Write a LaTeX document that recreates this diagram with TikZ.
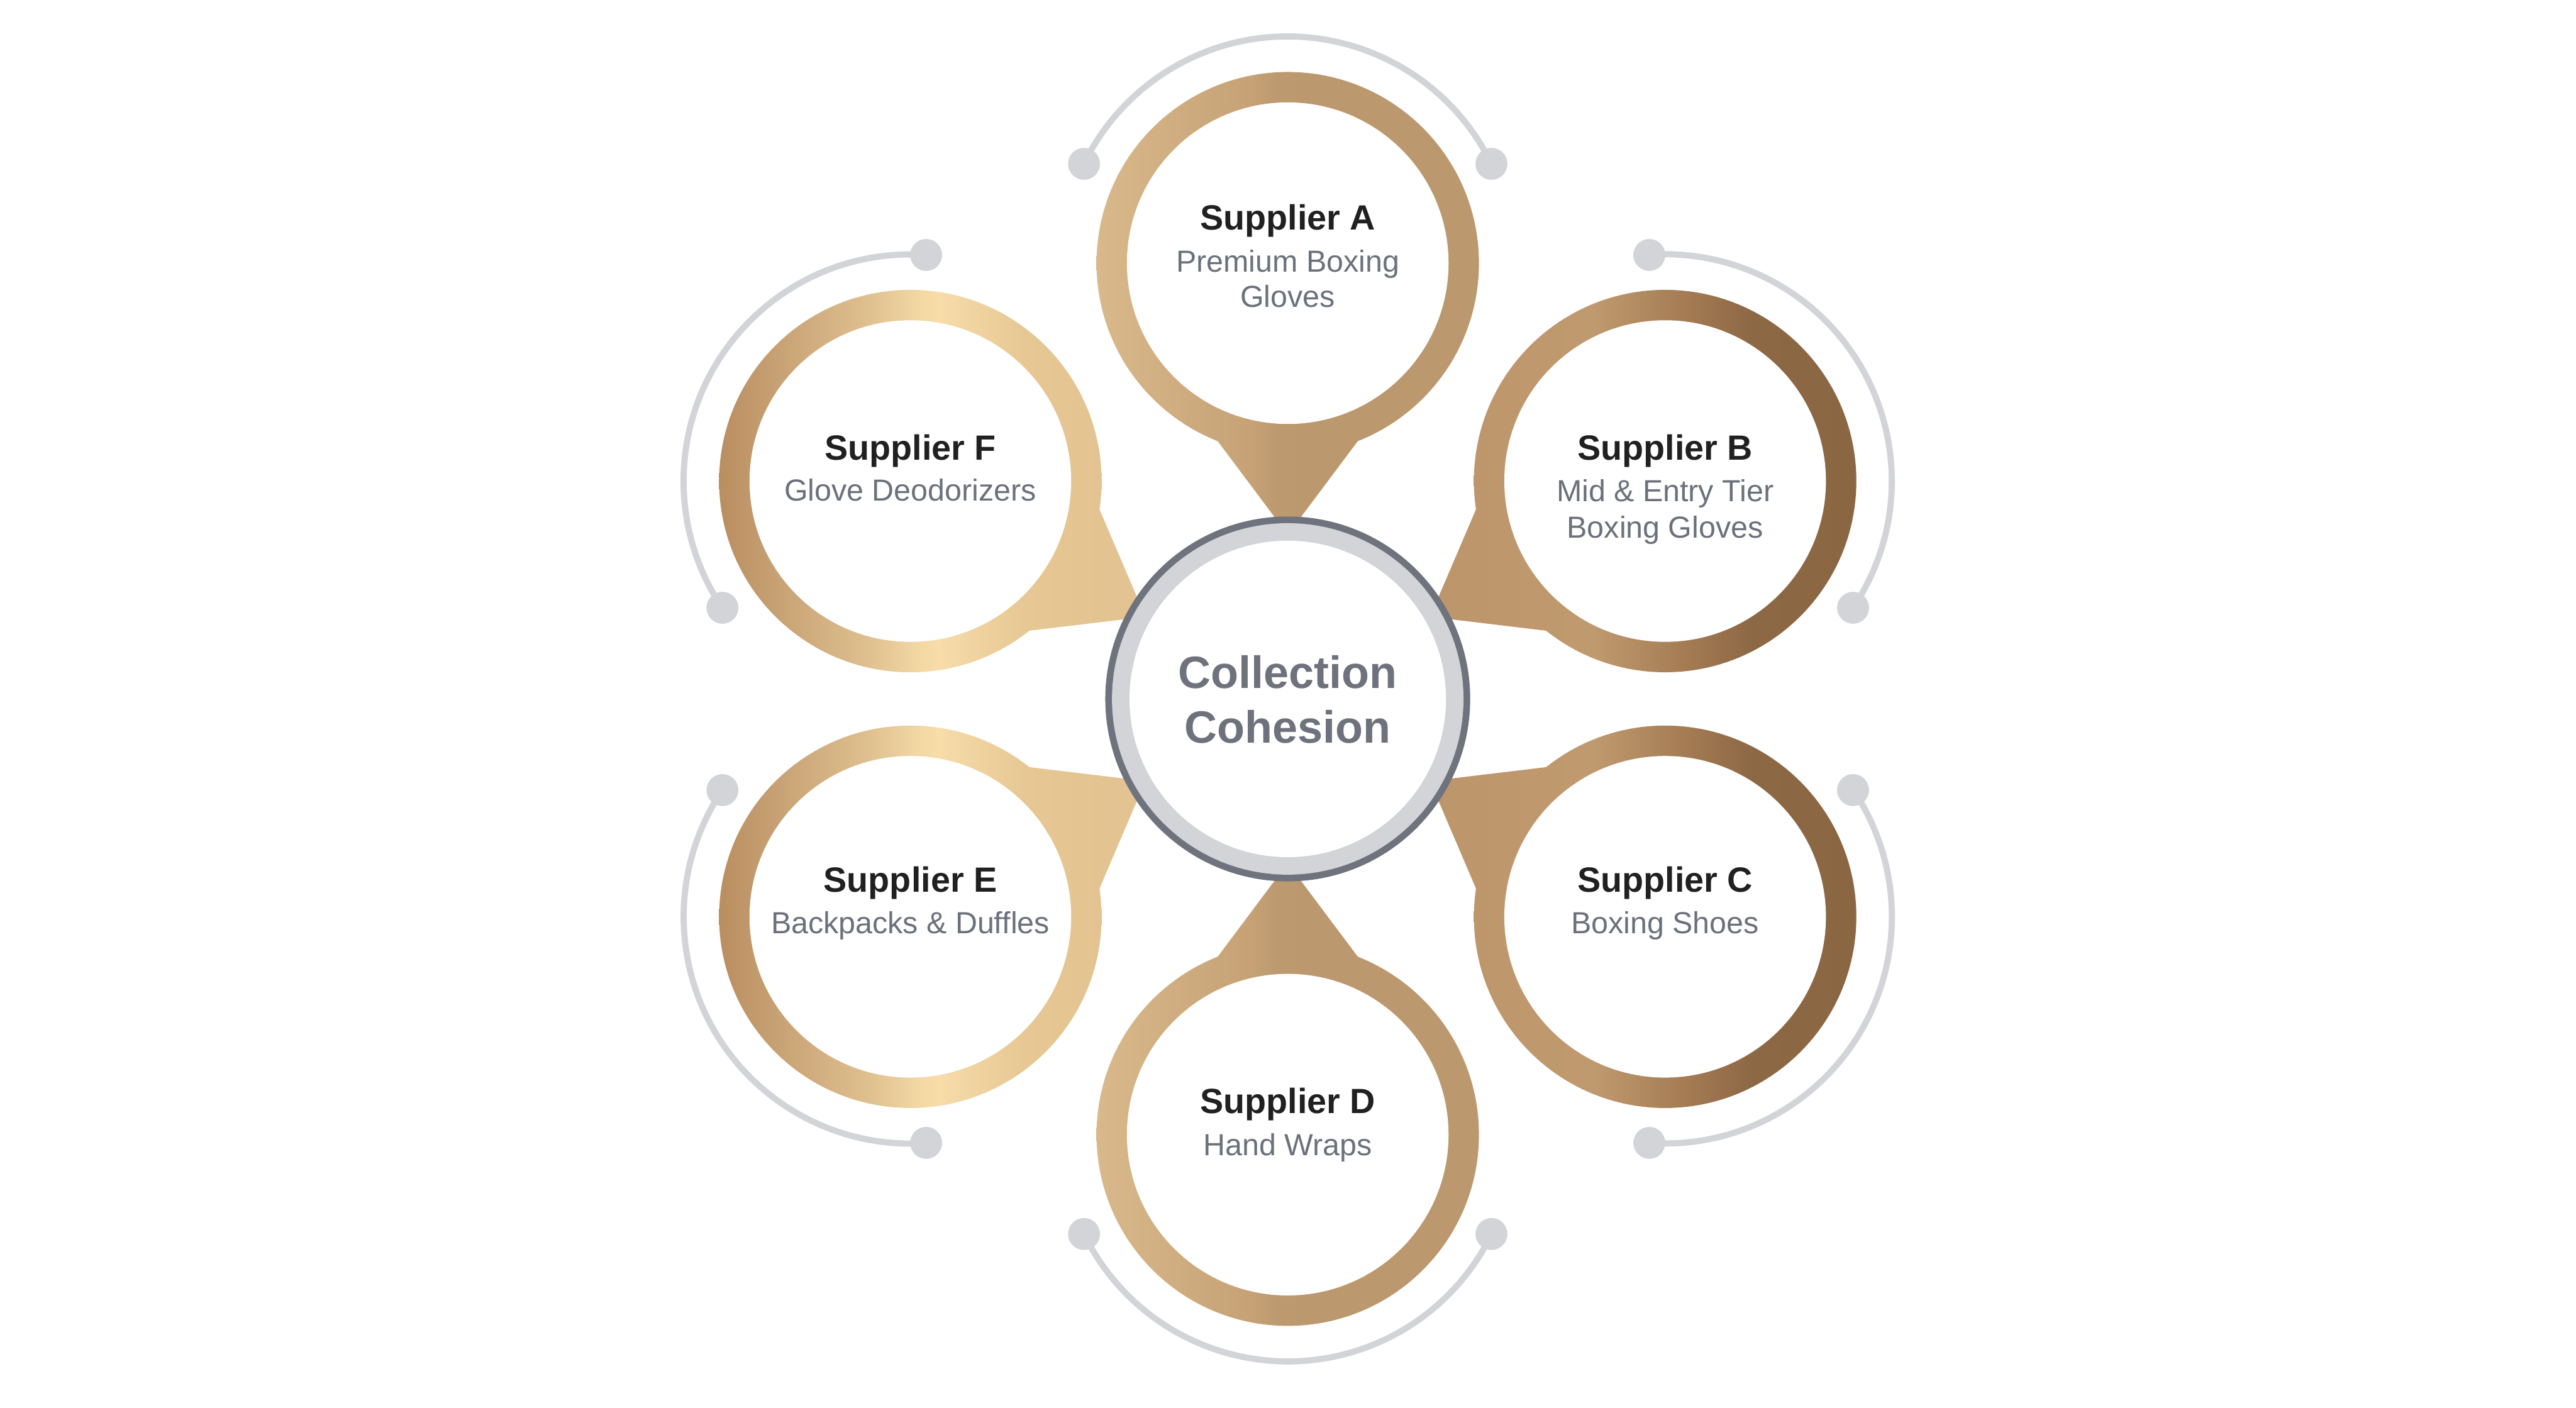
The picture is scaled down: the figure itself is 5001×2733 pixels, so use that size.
\documentclass[tikz,border=0pt]{standalone}
\usepackage{fontspec}
\setmainfont{Liberation Sans}
\usetikzlibrary{calc}

\definecolor{ringdark}{HTML}{6E737D}
\definecolor{ringlight}{HTML}{D3D4D8}
\definecolor{arcgray}{HTML}{D3D4D8}
\definecolor{titlecol}{HTML}{1F201F}
\definecolor{subcol}{HTML}{6B717C}
\definecolor{centercol}{HTML}{6D727C}
% gold A/D
\definecolor{gaA}{HTML}{D9B98B}
\definecolor{gaB}{HTML}{C6A276}
\definecolor{gaC}{HTML}{BD996F}
\definecolor{gaD}{HTML}{BC986E}
% bronze B/C
\definecolor{gbA}{HTML}{BE966B}
\definecolor{gbB}{HTML}{C09A6F}
\definecolor{gbC}{HTML}{A47B53}
\definecolor{gbD}{HTML}{8D6845}
\definecolor{gbE}{HTML}{8B6643}
% champagne E/F
\definecolor{geA}{HTML}{B98E61}
\definecolor{geB}{HTML}{C8A375}
\definecolor{geC}{HTML}{DEBE8E}
\definecolor{geD}{HTML}{F3D8A4}
\definecolor{geE}{HTML}{F8DDAA}
\definecolor{geF}{HTML}{F2D6A3}
\definecolor{geG}{HTML}{E7C894}
\definecolor{geH}{HTML}{E3C391}

\pgfdeclarehorizontalshading{goldA}{100bp}{color(0bp)=(gaA); color(34.54bp)=(gaA); color(46.88bp)=(gaB); color(49.17bp)=(gaC); color(52.08bp)=(gaD); color(100bp)=(gaD)}
\pgfdeclarehorizontalshading{goldB}{100bp}{color(0bp)=(gbA); color(34.54bp)=(gbA); color(44.17bp)=(gbB); color(51.67bp)=(gbC); color(57.08bp)=(gbD); color(65.46bp)=(gbE); color(100bp)=(gbE)}
\pgfdeclarehorizontalshading{goldE}{100bp}{color(0bp)=(geA); color(34.54bp)=(geA); color(39.58bp)=(geB); color(46.25bp)=(geC); color(50.83bp)=(geD); color(52.3bp)=(geE); color(54.2bp)=(geF); color(59.17bp)=(geG); color(65.46bp)=(geH); color(100bp)=(geH)}

\begin{document}
\begin{tikzpicture}[x=0.01cm,y=0.01cm,
  arcline/.style={draw=arcgray,line width=0.12cm},
  dotfill/.style={fill=arcgray},
  titletext/.style={anchor=base,inner sep=0pt,text=titlecol,font=\fontsize{19.35pt}{23pt}\selectfont\bfseries},
  subtext/.style={anchor=base,inner sep=0pt,text=subcol,font=\fontsize{16.8pt}{20pt}\selectfont},
  centertext/.style={anchor=base,inner sep=0pt,text=centercol,font=\fontsize{25pt}{30pt}\selectfont\bfseries}]

\useasboundingbox (-2500,-1376) rectangle (2501,1357);
\fill[white] (-2500,-1376) rectangle (2501,1357);

\coordinate (cC) at (0,0);
\foreach \n/\a in {A/90,B/30,C/-30,D/-90,E/210,F/150}{
  \coordinate (s\n) at (\a:846);
  \coordinate (d\n1) at ($(s\n)+(\a-64:440)$);
  \coordinate (d\n2) at ($(s\n)+(\a+64:440)$);
}

% gray orbit arcs with end dots
\foreach \n/\a in {A/90,B/30,C/-30,D/-90,E/210,F/150}{
  \draw[arcline] (d\n1) arc[start angle=\a-64, end angle=\a+64, radius=4.4cm];
  \fill[dotfill] (d\n1) circle[radius=0.31cm];
  \fill[dotfill] (d\n2) circle[radius=0.31cm];
}

% supplier pins (ring + pointer)
\foreach \n/\a/\s in {A/90/goldA,B/30/goldB,C/-30/goldB,D/-90/goldA,E/210/goldE,F/150/goldE}{
  \begin{scope}
    \clip (s\n) circle[radius=3.71cm];
    \shade[shading=\s] (s\n) ++(-600,-600) rectangle ++(1200,1200);
  \end{scope}
  \begin{scope}
    \clip (\a:319) -- (\a+17.3:571.9) -- (\a-17.3:571.9) -- cycle;
    \shade[shading=\s] (s\n) ++(-600,-600) rectangle ++(1200,1200);
  \end{scope}
  \fill[white] (s\n) circle[radius=3.12cm];
}

% centre hub
\fill[ringdark] (cC) circle[radius=3.54cm];
\fill[ringlight] (cC) circle[radius=3.41cm];
\fill[white] (cC) circle[radius=3.07cm];

\node[centertext] (hub1) at ($(cC)+(0,21)$) {Collection};
\node[centertext] (hub2) at ($(cC)+(0,-85)$) {Cohesion};

% texts
\node[titletext] (tA) at ($(sA)+(0,65)$) {Supplier A};
\node[subtext] (uA1) at ($(sA)+(0,-17)$) {Premium Boxing};
\node[subtext] (uA2) at ($(sA)+(0,-86)$) {Gloves};

\node[titletext] (tB) at ($(sB)+(0,41)$) {Supplier B};
\node[subtext] (uB1) at ($(sB)+(0,-40)$) {Mid \& Entry Tier};
\node[subtext] (uB2) at ($(sB)+(0,-110)$) {Boxing Gloves};

\node[titletext] (tC) at ($(sC)+(0,48)$) {Supplier C};
\node[subtext] (uC1) at ($(sC)+(0,-33)$) {Boxing Shoes};

\node[titletext] (tD) at ($(sD)+(0,41)$) {Supplier D};
\node[subtext] (uD1) at ($(sD)+(0,-40)$) {Hand Wraps};

\node[titletext] (tE) at ($(sE)+(0,48)$) {Supplier E};
\node[subtext] (uE1) at ($(sE)+(0,-32)$) {Backpacks \& Duffles};

\node[titletext] (tF) at ($(sF)+(0,41)$) {Supplier F};
\node[subtext] (uF1) at ($(sF)+(0,-39)$) {Glove Deodorizers};

\end{tikzpicture}
\end{document}
